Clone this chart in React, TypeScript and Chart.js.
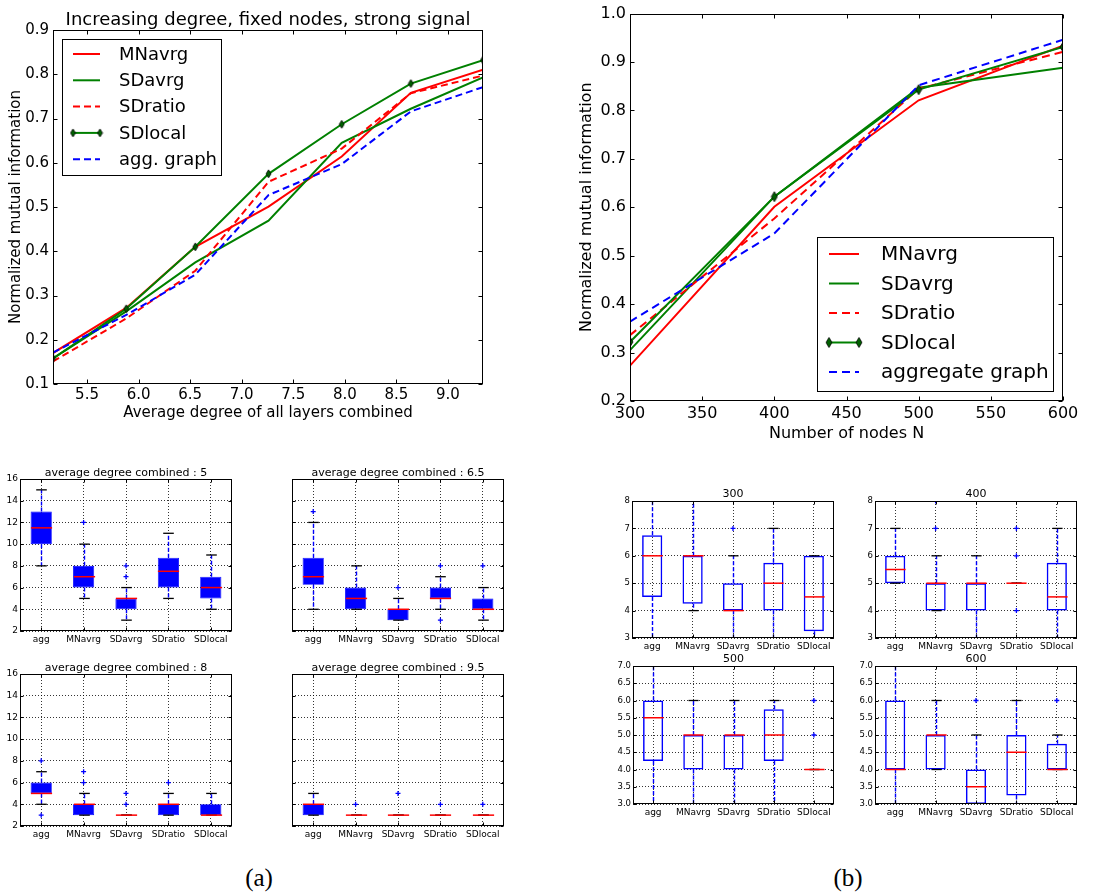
import React, { useEffect, useRef } from 'react';
import { Chart, registerables } from 'chart.js';

Chart.register(...registerables);

const SANS = '"DejaVu Sans", "Liberation Sans", sans-serif';
Chart.defaults.font.family = SANS;
Chart.defaults.color = '#000';

const RED = '#ff0000';
const GREEN = '#008000';
const BLUE = '#0000ff';

// ---------- (a) top: increasing degree, fixed nodes ----------
const degreeX = [5.17, 5.88, 6.55, 7.26, 7.97, 8.64, 9.34];
const degreeMNavrg = [0.17, 0.272, 0.41, 0.501, 0.614, 0.758, 0.81];
const degreeSDavrg = [0.158, 0.264, 0.375, 0.469, 0.645, 0.722, 0.793];
const degreeSDratio = [0.151, 0.248, 0.356, 0.557, 0.632, 0.757, 0.797];
const degreeSDlocal = [0.158, 0.27, 0.41, 0.575, 0.687, 0.779, 0.832];
const degreeAgg = [0.171, 0.256, 0.347, 0.527, 0.597, 0.716, 0.771];
const degreeXTicks = [5.5, 6.0, 6.5, 7.0, 7.5, 8.0, 8.5, 9.0];
const degreeYTicks = [0.1, 0.2, 0.3, 0.4, 0.5, 0.6, 0.7, 0.8, 0.9];

// ---------- (b) top: number of nodes ----------
const nodesX = [300, 400, 500, 600];
const nodesMNavrg = [0.273, 0.601, 0.821, 0.934];
const nodesSDavrg = [0.305, 0.622, 0.847, 0.888];
const nodesSDratio = [0.336, 0.577, 0.845, 0.921];
const nodesSDlocal = [0.322, 0.622, 0.843, 0.931];
const nodesAgg = [0.364, 0.546, 0.852, 0.946];
const nodesXTicks = [300, 350, 400, 450, 500, 550, 600];
const nodesYTicks = [0.2, 0.3, 0.4, 0.5, 0.6, 0.7, 0.8, 0.9, 1.0];

// ---------- box plots ----------
const boxCategories = ['agg', 'MNavrg', 'SDavrg', 'SDratio', 'SDlocal'];

// (a) average degree combined : 5
const deg5Q1 = [10, 6, 4, 6, 5];
const deg5Q3 = [13, 8, 5, 8.75, 7];
const deg5Median = [11.5, 7, 5, 7.5, 6];
const deg5Low = [8, 5, 3, 5, 4];
const deg5High = [15, 10, 6, 11, 9];
const deg5Fliers = [[1, 12], [2, 7], [2, 8]];

// (a) average degree combined : 6.5
const deg65Q1 = [6.25, 4, 3, 5, 4];
const deg65Q3 = [8.75, 6, 4, 6, 5];
const deg65Median = [7, 5, 4, 5, 4];
const deg65Low = [4, 4, 3, 4, 3];
const deg65High = [12, 8, 5, 7, 6];
const deg65Fliers = [[0, 13], [2, 6], [3, 8], [3, 3], [4, 8]];

// (a) average degree combined : 8
const deg8Q1 = [5, 3, 3, 3, 3];
const deg8Q3 = [6, 4, 3, 4, 4];
const deg8Median = [5, 4, 3, 4, 3];
const deg8Low = [4, 3, 3, 3, 3];
const deg8High = [7, 5, 3, 5, 5];
const deg8Fliers = [[0, 8], [0, 3], [1, 6], [1, 7], [2, 4], [2, 5], [3, 6]];

// (a) average degree combined : 9.5
const deg95Q1 = [3, 3, 3, 3, 3];
const deg95Q3 = [4, 3, 3, 3, 3];
const deg95Median = [4, 3, 3, 3, 3];
const deg95Low = [3, 3, 3, 3, 3];
const deg95High = [5, 3, 3, 3, 3];
const deg95Fliers = [[1, 4], [2, 5], [3, 4], [4, 4]];

// (b) 300
const n300Q1 = [4.5, 4.25, 4, 4, 3.25];
const n300Q3 = [6.75, 6, 5, 5.75, 6];
const n300Median = [6, 6, 4, 5, 4.5];
const n300Low = [3, 4, 3, 3, 3];
const n300High = [8, 8, 6, 7, 6];
const n300Fliers = [[2, 7]];

// (b) 400
const n400Q1 = [5, 4, 4, 5, 4];
const n400Q3 = [6, 5, 5, 5, 5.75];
const n400Median = [5.5, 5, 5, 5, 4.5];
const n400Low = [5, 4, 3, 5, 3];
const n400High = [7, 6, 6, 5, 7];
const n400Fliers = [[1, 7], [1, 8], [3, 6], [3, 7], [3, 4]];

// (b) 500
const n500Q1 = [4.25, 4, 4, 4.25, 4];
const n500Q3 = [6, 5, 5, 5.75, 4];
const n500Median = [5.5, 5, 5, 5, 4];
const n500Low = [3, 3, 3, 3, 4];
const n500High = [7, 6, 6, 6, 4];
const n500Fliers = [[4, 5], [4, 6]];

// (b) 600
const n600Q1 = [4, 4, 3, 3.25, 4];
const n600Q3 = [6, 5, 4, 5, 4.75];
const n600Median = [4, 5, 3.5, 4.5, 4];
const n600Low = [3, 4, 3, 3, 4];
const n600High = [7, 6, 5, 6, 5];
const n600Fliers = [[2, 6], [4, 6]];

const boxYTicksA = [2, 4, 6, 8, 10, 12, 14, 16];
const boxYTicksB1 = [3, 4, 5, 6, 7, 8];
const boxYTicksB2 = [3.0, 3.5, 4.0, 4.5, 5.0, 5.5, 6.0, 6.5, 7.0];

// ---------- helpers ----------
function makeDiamond(w: number, h: number): HTMLCanvasElement {
  const c = document.createElement('canvas');
  c.width = w + 2;
  c.height = h + 2;
  const g = c.getContext('2d')!;
  const cx = c.width / 2;
  const cy = c.height / 2;
  g.beginPath();
  g.moveTo(cx, cy - h / 2);
  g.lineTo(cx + w / 2, cy);
  g.lineTo(cx, cy + h / 2);
  g.lineTo(cx - w / 2, cy);
  g.closePath();
  g.fillStyle = '#006000';
  g.fill();
  g.lineWidth = 0.8;
  g.strokeStyle = '#000';
  g.stroke();
  return c;
}

function frameAndTicks(chart: any, tickLen: number) {
  const { ctx, chartArea: a } = chart;
  const xs = chart.scales.x;
  const ys = chart.scales.y;
  const L = Math.round(a.left) + 0.5;
  const R = Math.round(a.right) - 0.5;
  const T = Math.round(a.top) + 0.5;
  const B = Math.round(a.bottom) - 0.5;
  ctx.save();
  ctx.setLineDash([]);
  ctx.strokeStyle = '#000';
  ctx.lineWidth = 1;
  ctx.beginPath();
  for (let i = 0; i < xs.ticks.length; i++) {
    const p = Math.round(xs.getPixelForTick(i)) + 0.5;
    ctx.moveTo(p, B);
    ctx.lineTo(p, B - tickLen);
    ctx.moveTo(p, T);
    ctx.lineTo(p, T + tickLen);
  }
  for (let i = 0; i < ys.ticks.length; i++) {
    const p = Math.round(ys.getPixelForTick(i)) + 0.5;
    ctx.moveTo(L, p);
    ctx.lineTo(L + tickLen, p);
    ctx.moveTo(R, p);
    ctx.lineTo(R - tickLen, p);
  }
  ctx.stroke();
  ctx.strokeRect(L, T, R - L, B - T);
  ctx.restore();
}

type Series = { label: string; values: number[]; color: string; dash: number[]; marker?: boolean };
type LegendSpec = {
  corner: 'tl' | 'br';
  dx: number;
  dy: number;
  w: number;
  h: number;
  font: number;
  rowH: number;
  firstRow: number;
  sx0: number;
  sx1: number;
  tx: number;
};

function LineChart(props: any) {
  const ref = useRef<HTMLCanvasElement>(null);
  const { canvas, pad, xs, series, xTicks, yTicks, xMin, xMax, yMin, yMax, xFmt, yFmt, title, titleSize, titleCenter, xTitle, yTitle, fontSize, xTitleOff, yTitleOff, legend, markerW, markerH, xTickPad } = props;
  useEffect(() => {
    const marker = makeDiamond(markerW, markerH);
    const lg: LegendSpec = legend;
    const decor = {
      id: 'decor',
      afterDatasetsDraw(chart: any) {
        frameAndTicks(chart, 4);
      },
      afterDraw(chart: any) {
        const { ctx, chartArea: a } = chart;
        const left = lg.corner === 'tl' ? a.left + lg.dx : a.right - lg.dx - lg.w;
        const top = lg.corner === 'tl' ? a.top + lg.dy : a.bottom - lg.dy - lg.h;
        ctx.save();
        ctx.fillStyle = '#fff';
        ctx.fillRect(Math.round(left), Math.round(top), lg.w, lg.h);
        ctx.strokeStyle = '#000';
        ctx.lineWidth = 1;
        ctx.setLineDash([]);
        ctx.strokeRect(Math.round(left) + 0.5, Math.round(top) + 0.5, lg.w, lg.h);
        series.forEach((s: Series, i: number) => {
          const cy = top + lg.firstRow + i * lg.rowH;
          ctx.beginPath();
          ctx.strokeStyle = s.color;
          ctx.lineWidth = 2;
          ctx.setLineDash(s.dash);
          ctx.moveTo(left + lg.sx0, cy);
          ctx.lineTo(left + lg.sx1, cy);
          ctx.stroke();
          ctx.setLineDash([]);
          if (s.marker) {
            ctx.drawImage(marker, left + lg.sx0 - marker.width / 2, cy - marker.height / 2);
            ctx.drawImage(marker, left + lg.sx1 - marker.width / 2, cy - marker.height / 2);
          }
          ctx.fillStyle = '#000';
          ctx.font = `${lg.font}px ${SANS}`;
          ctx.textBaseline = 'middle';
          ctx.textAlign = 'left';
          ctx.fillText(s.label, left + lg.tx, cy + 1);
        });
        ctx.restore();
      },
    };
    const n = series.length;
    const titlePadTop = titleCenter - titleSize / 2;
    const chart = new Chart(ref.current!, {
      type: 'line',
      data: {
        datasets: series.map((s: Series, i: number) => ({
          label: s.label,
          data: xs.map((x: number, j: number) => ({ x, y: s.values[j] })),
          borderColor: s.color,
          backgroundColor: s.color,
          borderWidth: 2,
          borderDash: s.dash,
          pointRadius: s.marker ? 3 : 0,
          pointStyle: s.marker ? marker : 'circle',
          tension: 0,
          fill: false,
          order: n - i,
        })),
      },
      options: {
        responsive: false,
        animation: false,
        events: [],
        layout: { padding: { left: 0, right: pad.r, top: title ? 0 : pad.t, bottom: 0 } },
        plugins: {
          legend: { display: false },
          tooltip: { enabled: false },
          title: title
            ? {
                display: true,
                text: title,
                fullSize: false,
                color: '#000',
                font: { size: titleSize, lineHeight: 1, weight: 'normal', family: SANS },
                padding: { top: titlePadTop, bottom: pad.t - titleSize - titlePadTop },
              }
            : { display: false },
        },
        scales: {
          x: {
            type: 'linear',
            min: xMin,
            max: xMax,
            afterBuildTicks: (s: any) => {
              s.ticks = xTicks.map((v: number) => ({ value: v }));
            },
            afterFit: (s: any) => {
              s.height = pad.b;
            },
            grid: { display: false, drawTicks: false },
            border: { display: false },
            ticks: { callback: (v: any) => xFmt(Number(v)), font: { size: fontSize }, padding: xTickPad, maxRotation: 0, autoSkip: false, color: '#000' },
            title: { display: true, text: xTitle, color: '#000', font: { size: fontSize, lineHeight: 1 }, padding: { top: 0, bottom: xTitleOff - fontSize / 2 } },
          },
          y: {
            type: 'linear',
            min: yMin,
            max: yMax,
            afterBuildTicks: (s: any) => {
              s.ticks = yTicks.map((v: number) => ({ value: v }));
            },
            afterFit: (s: any) => {
              s.width = pad.l;
            },
            grid: { display: false, drawTicks: false },
            border: { display: false },
            ticks: { callback: (v: any) => yFmt(Number(v)), font: { size: fontSize }, padding: 4, autoSkip: false, color: '#000' },
            title: { display: true, text: yTitle, color: '#000', font: { size: fontSize, lineHeight: 1 }, padding: { top: yTitleOff - fontSize / 2, bottom: 0 } },
          },
        },
      },
      plugins: [decor],
    } as any);
    return () => chart.destroy();
  }, []);
  return (
    <canvas
      ref={ref}
      width={canvas.width}
      height={canvas.height}
      style={{ position: 'absolute', left: canvas.left, top: canvas.top, width: canvas.width, height: canvas.height }}
    />
  );
}

function BoxChart(props: any) {
  const ref = useRef<HTMLCanvasElement>(null);
  const { area, pad, title, titleSize, titleGap, q1, q3, med, lo, hi, fliers, yMin, yMax, yTicks, yFmt, showY, filled, yFont, xFont } = props;
  const cw = area.r - area.l + pad.l + pad.r;
  const chh = area.b - area.t + pad.t + pad.b;
  useEffect(() => {
    const extras = {
      id: 'boxExtras',
      afterDatasetsDraw(chart: any) {
        const { ctx, chartArea: a } = chart;
        const x = chart.scales.x;
        const y = chart.scales.y;
        ctx.save();
        ctx.beginPath();
        ctx.rect(a.left, a.top, a.right - a.left, a.bottom - a.top);
        ctx.clip();
        const unit = Math.abs(x.getPixelForValue(1) - x.getPixelForValue(0));
        const boxHalf = unit * 0.25;
        const capHalf = unit * 0.125;
        const seg = (x0: number, y0: number, x1: number, y1: number) => {
          ctx.beginPath();
          ctx.moveTo(x0, y0);
          ctx.lineTo(x1, y1);
          ctx.stroke();
        };
        med.forEach((m: number, i: number) => {
          const cx = Math.round(x.getPixelForValue(i)) + 0.5;
          ctx.strokeStyle = BLUE;
          ctx.lineWidth = 1.4;
          ctx.setLineDash([4, 2]);
          if (lo[i] < q1[i]) seg(cx, y.getPixelForValue(q1[i]), cx, y.getPixelForValue(lo[i]));
          if (hi[i] > q3[i]) seg(cx, y.getPixelForValue(q3[i]), cx, y.getPixelForValue(hi[i]));
          ctx.setLineDash([]);
          ctx.strokeStyle = '#000';
          ctx.lineWidth = 1.3;
          seg(cx - capHalf, y.getPixelForValue(lo[i]), cx + capHalf, y.getPixelForValue(lo[i]));
          seg(cx - capHalf, y.getPixelForValue(hi[i]), cx + capHalf, y.getPixelForValue(hi[i]));
          ctx.strokeStyle = RED;
          ctx.lineWidth = 1.5;
          seg(cx - boxHalf, y.getPixelForValue(m), cx + boxHalf, y.getPixelForValue(m));
        });
        ctx.restore();
        frameAndTicks(chart, 3);
      },
    };
    const titlePadTop = pad.t - titleGap - titleSize / 2;
    const chart = new Chart(ref.current!, {
      type: 'bar',
      data: {
        labels: boxCategories,
        datasets: [
          {
            type: 'scatter',
            data: fliers.map((f: number[]) => ({ x: boxCategories[f[0]], y: f[1] })),
            pointStyle: 'cross',
            pointRadius: 2.5,
            borderColor: BLUE,
            backgroundColor: BLUE,
            borderWidth: 1.3,
            order: 0,
          },
          {
            type: 'bar',
            data: q1.map((v: number, i: number) => [v, q3[i]]),
            backgroundColor: filled ? BLUE : 'rgba(0,0,0,0)',
            borderColor: BLUE,
            borderWidth: filled ? 0.8 : 1.5,
            borderSkipped: false,
            categoryPercentage: 1,
            barPercentage: 0.5,
            order: 1,
          },
        ],
      },
      options: {
        responsive: false,
        animation: false,
        events: [],
        layout: { padding: { left: 0, right: pad.r, top: 0, bottom: 0 } },
        plugins: {
          legend: { display: false },
          tooltip: { enabled: false },
          title: {
            display: true,
            text: title,
            fullSize: false,
            color: '#000',
            font: { size: titleSize, lineHeight: 1, weight: 'normal', family: SANS },
            padding: { top: titlePadTop, bottom: pad.t - titleSize - titlePadTop },
          },
        },
        scales: {
          x: {
            type: 'category',
            offset: true,
            afterFit: (s: any) => {
              s.height = pad.b;
            },
            grid: { display: true, offset: false, drawTicks: false, color: '#000', lineWidth: 0.8 },
            border: { display: false, dash: [1, 2] },
            ticks: { font: { size: xFont }, padding: 3, maxRotation: 0, autoSkip: false, color: '#000' },
          },
          y: {
            type: 'linear',
            min: yMin,
            max: yMax,
            afterBuildTicks: (s: any) => {
              s.ticks = yTicks.map((v: number) => ({ value: v }));
            },
            afterFit: (s: any) => {
              s.width = pad.l;
            },
            grid: { display: true, drawTicks: false, color: '#000', lineWidth: 0.8 },
            border: { display: false, dash: [1, 2] },
            ticks: { display: showY, callback: (v: any) => yFmt(Number(v)), font: { size: yFont }, padding: 2, autoSkip: false, color: '#000' },
          },
        },
      },
      plugins: [extras],
    } as any);
    return () => chart.destroy();
  }, []);
  return (
    <canvas
      ref={ref}
      width={cw}
      height={chh}
      style={{ position: 'absolute', left: area.l - pad.l, top: area.t - pad.t, width: cw, height: chh }}
    />
  );
}

const fmt1 = (v: number) => v.toFixed(1);
const fmt0 = (v: number) => String(Math.round(v));

const degreeSeries: Series[] = [
  { label: 'MNavrg', values: degreeMNavrg, color: RED, dash: [] },
  { label: 'SDavrg', values: degreeSDavrg, color: GREEN, dash: [] },
  { label: 'SDratio', values: degreeSDratio, color: RED, dash: [7, 4] },
  { label: 'SDlocal', values: degreeSDlocal, color: GREEN, dash: [], marker: true },
  { label: 'agg. graph', values: degreeAgg, color: BLUE, dash: [7, 4] },
];

const nodesSeries: Series[] = [
  { label: 'MNavrg', values: nodesMNavrg, color: RED, dash: [] },
  { label: 'SDavrg', values: nodesSDavrg, color: GREEN, dash: [] },
  { label: 'SDratio', values: nodesSDratio, color: RED, dash: [8, 5] },
  { label: 'SDlocal', values: nodesSDlocal, color: GREEN, dash: [], marker: true },
  { label: 'aggregate graph', values: nodesAgg, color: BLUE, dash: [8, 5] },
];

const padA = { l: 20, t: 18, r: 12, b: 16 };
const padB = { l: 22, t: 18, r: 8, b: 16 };

export default function App() {
  const aCommon = { pad: padA, titleSize: 11, titleGap: 6, yMin: 2, yMax: 16, yTicks: boxYTicksA, yFmt: fmt0, filled: true, yFont: 9, xFont: 9 };
  const bCommon = { pad: padB, titleSize: 11, titleGap: 7, filled: false, yFont: 8.5, xFont: 9, showY: true };
  return (
    <div style={{ position: 'absolute', left: 0, top: 0, width: 1096, height: 894, background: '#fff', overflow: 'hidden' }}>
      <LineChart
        canvas={{ left: 0, top: 0, width: 500, height: 430 }}
        pad={{ l: 53, t: 30, r: 17, b: 46 }}
        xs={degreeX}
        series={degreeSeries}
        xTicks={degreeXTicks}
        yTicks={degreeYTicks}
        xMin={degreeX[0]}
        xMax={degreeX[degreeX.length - 1]}
        yMin={0.1}
        yMax={0.9}
        xFmt={fmt1}
        yFmt={fmt1}
        title="Increasing degree, fixed nodes, strong signal"
        titleSize={18}
        titleCenter={20}
        xTitle="Average degree of all layers combined"
        yTitle="Normalized mutual information"
        fontSize={15}
        xTickPad={2}
        xTitleOff={17}
        yTitleOff={16}
        markerW={5}
        markerH={8}
        legend={{ corner: 'tl', dx: 9, dy: 9, w: 159, h: 136, font: 18, rowH: 26.3, firstRow: 15, sx0: 11, sx1: 38, tx: 57 }}
      />
      <LineChart
        canvas={{ left: 560, top: 0, width: 536, height: 450 }}
        pad={{ l: 70, t: 13, r: 33, b: 49 }}
        xs={nodesX}
        series={nodesSeries}
        xTicks={nodesXTicks}
        yTicks={nodesYTicks}
        xMin={300}
        xMax={600}
        yMin={0.2}
        yMax={1.0}
        xFmt={fmt0}
        yFmt={fmt1}
        xTitle="Number of nodes N"
        yTitle="Normalized mutual information"
        fontSize={16}
        xTickPad={3}
        xTitleOff={16}
        yTitleOff={27}
        markerW={6}
        markerH={10}
        legend={{ corner: 'br', dx: 10, dy: 10, w: 236, h: 154, font: 20, rowH: 29.5, firstRow: 17, sx0: 12, sx1: 42, tx: 64 }}
      />

      <BoxChart {...aCommon} area={{ l: 20, t: 479, r: 232, b: 631 }} title="average degree combined : 5" showY={true}
        q1={deg5Q1} q3={deg5Q3} med={deg5Median} lo={deg5Low} hi={deg5High} fliers={deg5Fliers} />
      <BoxChart {...aCommon} area={{ l: 292, t: 479, r: 504, b: 631 }} title="average degree combined : 6.5" showY={false}
        q1={deg65Q1} q3={deg65Q3} med={deg65Median} lo={deg65Low} hi={deg65High} fliers={deg65Fliers} />
      <BoxChart {...aCommon} area={{ l: 20, t: 674, r: 232, b: 826 }} title="average degree combined : 8" showY={true}
        q1={deg8Q1} q3={deg8Q3} med={deg8Median} lo={deg8Low} hi={deg8High} fliers={deg8Fliers} />
      <BoxChart {...aCommon} area={{ l: 292, t: 674, r: 504, b: 826 }} title="average degree combined : 9.5" showY={false}
        q1={deg95Q1} q3={deg95Q3} med={deg95Median} lo={deg95Low} hi={deg95High} fliers={deg95Fliers} />

      <BoxChart {...bCommon} area={{ l: 632, t: 501, r: 834, b: 638 }} title="300" yMin={3} yMax={8} yTicks={boxYTicksB1} yFmt={fmt0}
        q1={n300Q1} q3={n300Q3} med={n300Median} lo={n300Low} hi={n300High} fliers={n300Fliers} />
      <BoxChart {...bCommon} area={{ l: 875, t: 501, r: 1077, b: 638 }} title="400" yMin={3} yMax={8} yTicks={boxYTicksB1} yFmt={fmt0}
        q1={n400Q1} q3={n400Q3} med={n400Median} lo={n400Low} hi={n400High} fliers={n400Fliers} />
      <BoxChart {...bCommon} area={{ l: 633, t: 666, r: 834, b: 804 }} title="500" yMin={3} yMax={7} yTicks={boxYTicksB2} yFmt={fmt1}
        q1={n500Q1} q3={n500Q3} med={n500Median} lo={n500Low} hi={n500High} fliers={n500Fliers} />
      <BoxChart {...bCommon} area={{ l: 875, t: 666, r: 1077, b: 804 }} title="600" yMin={3} yMax={7} yTicks={boxYTicksB2} yFmt={fmt1}
        q1={n600Q1} q3={n600Q3} med={n600Median} lo={n600Low} hi={n600High} fliers={n600Fliers} />

      <div style={{ position: 'absolute', left: 219, top: 864, width: 80, textAlign: 'center', fontFamily: '"Liberation Serif", "DejaVu Serif", serif', fontSize: 25, lineHeight: '28px', color: '#000' }}>(a)</div>
      <div style={{ position: 'absolute', left: 808, top: 864, width: 80, textAlign: 'center', fontFamily: '"Liberation Serif", "DejaVu Serif", serif', fontSize: 25, lineHeight: '28px', color: '#000' }}>(b)</div>
    </div>
  );
}
